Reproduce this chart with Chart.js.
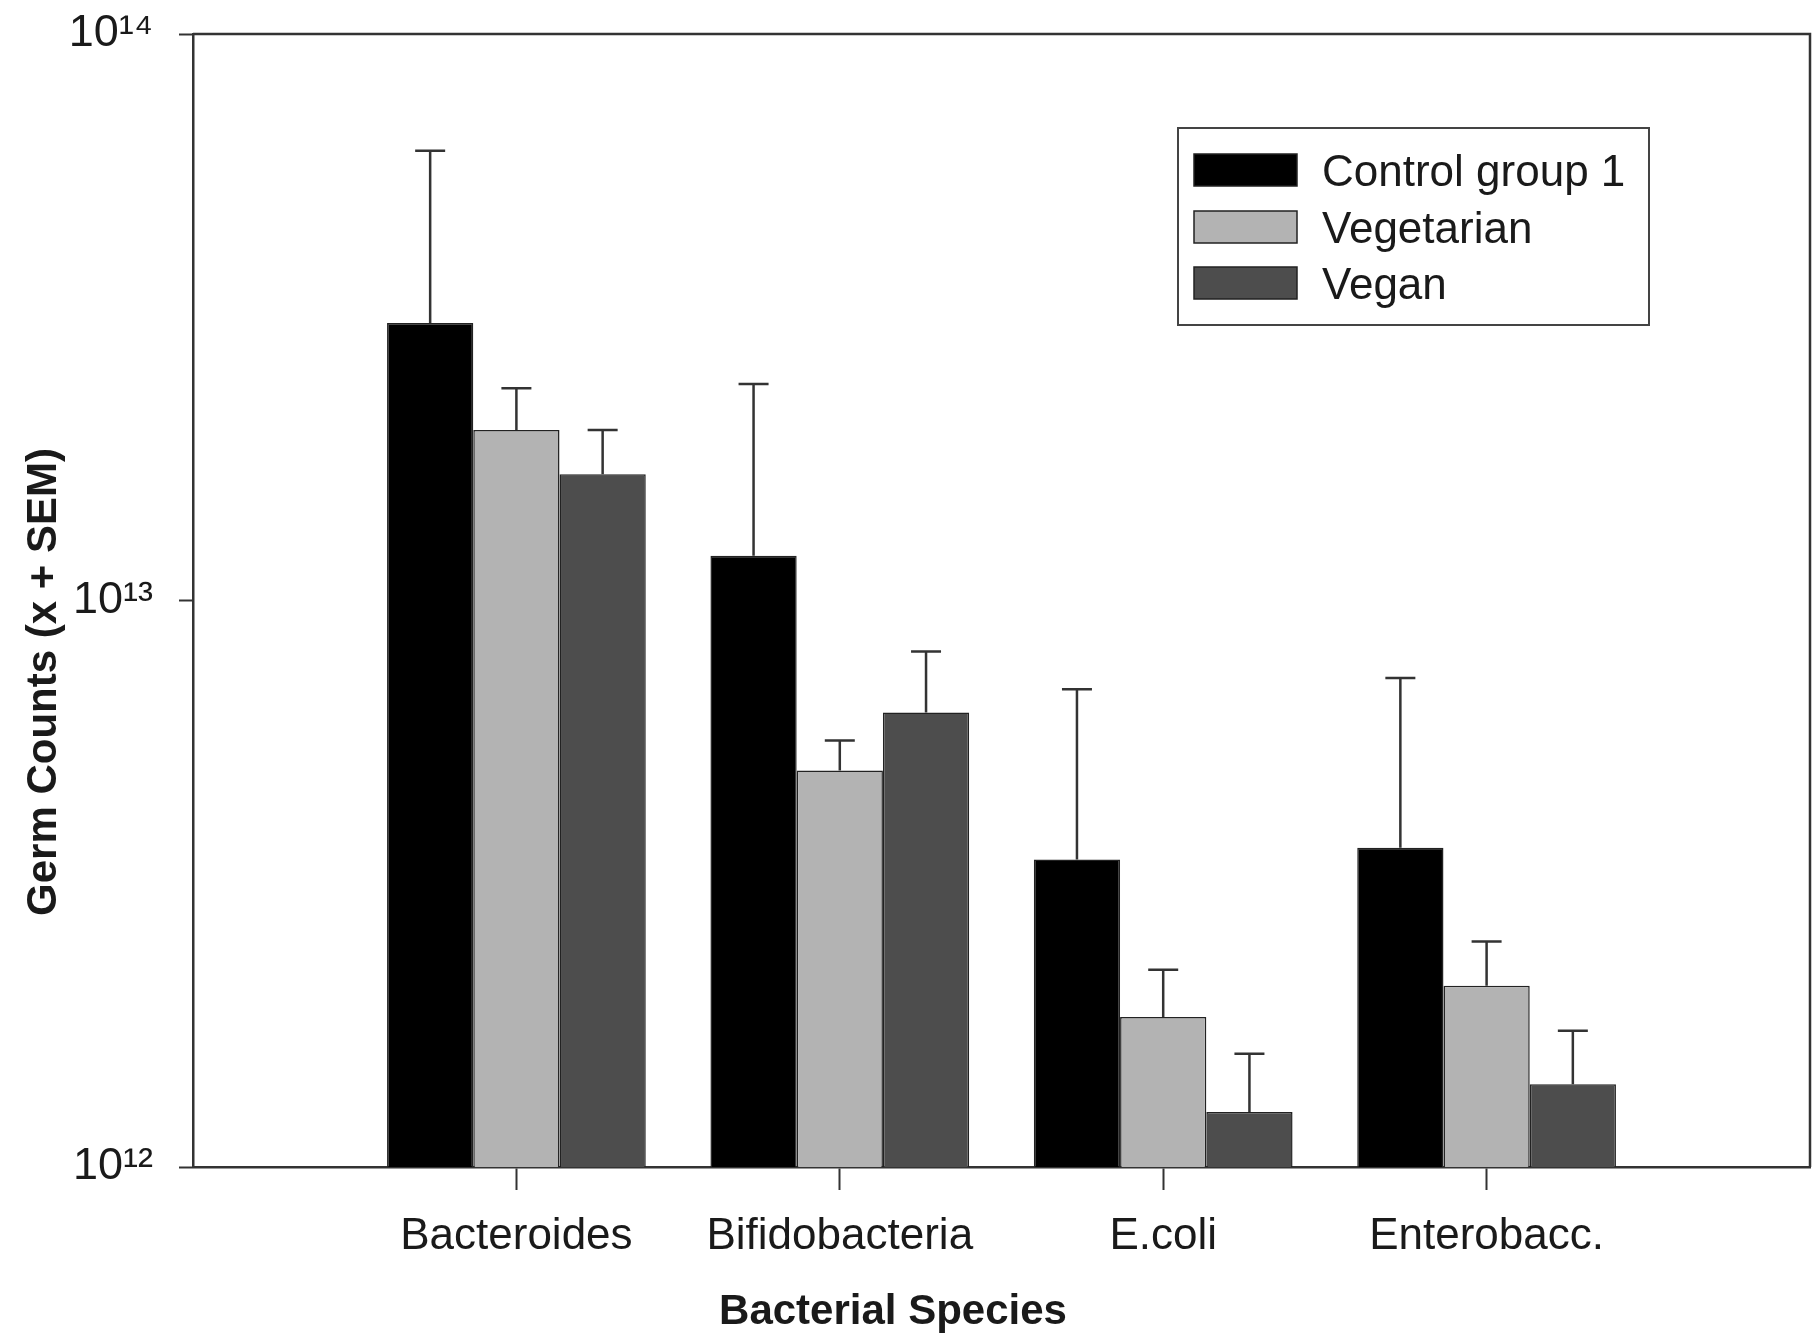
<!DOCTYPE html>
<html>
<head>
<meta charset="utf-8">
<script src="https://cdn.jsdelivr.net/npm/chart.js@4.4.1/dist/chart.umd.min.js"></script>
<style>
  html, body { margin: 0; padding: 0; background: #fff; }
  #wrap { width: 1812px; height: 1334px; position: relative; }
</style>
</head>
<body>
<div id="wrap"><canvas id="germs"></canvas></div>
<script>
// data (log scale, bar = mean, whisker top = mean + SEM)
const categories = ["Bacteroides", "Bifidobacteria", "E.coli", "Enterobacc."]
const seriesNames = ["Control group 1", "Vegetarian", "Vegan"]

const control = [3.09e13, 1.20e13, 3.49e12, 3.66e12]
const controlUpper = [6.22e13, 2.41e13, 6.97e12, 7.30e12]
const vegetarian = [2.00e13, 5.01e12, 1.84e12, 2.09e12]
const vegetarianUpper = [2.37e13, 5.66e12, 2.23e12, 2.50e12]
const vegan = [1.67e13, 6.34e12, 1.25e12, 1.40e12]
const veganUpper = [2.00e13, 8.13e12, 1.585e12, 1.74e12]

const yTickValues = [1e12, 1e13, 1e14]
const yTickLabels = ["10¹²", "10¹³", "10¹⁴"]

const barColors = ["#000000", "#b3b3b3", "#4d4d4d"]
const lineColor = "#333333"
const textColor = "#1a1a1a"

// one empty slot each side so the groups sit where the original puts them
const pad = arr => [null, ...arr, null]
const labels = ["", ...categories, ""]
const uppers = [controlUpper, vegetarianUpper, veganUpper].map(pad)

const datasets = [control, vegetarian, vegan].map((vals, i) => ({
    label: seriesNames[i],
    data: pad(vals),
    backgroundColor: barColors[i],
    borderColor: "#222222",
    borderWidth: 1.5,
    categoryPercentage: 0.8,
    barPercentage: 1.0
}))

// keep the scales from pushing the plot area around
const noPad = s => { s.paddingTop = 0; s.paddingBottom = 0; s.paddingLeft = 0; s.paddingRight = 0 }

/* whiskers: only upward, with a cap */
const errorBars = {
    id: "errorBars",
    afterDatasetsDraw(chart) {
        const ctx = chart.ctx
        const y = chart.scales.y
        ctx.save()
        ctx.strokeStyle = lineColor
        ctx.lineWidth = 2.5
        chart.data.datasets.forEach((ds, i) => {
            chart.getDatasetMeta(i).data.forEach((bar, j) => {
                const up = uppers[i][j]
                if (up == null || ds.data[j] == null) return
                const yTop = y.getPixelForValue(up)
                ctx.beginPath()
                ctx.moveTo(bar.x, bar.y)
                ctx.lineTo(bar.x, yTop)
                ctx.moveTo(bar.x - 15, yTop)
                ctx.lineTo(bar.x + 15, yTop)
                ctx.stroke()
            })
        })
        ctx.restore()
    }
}

/* box round the plot, legend and the two axis titles */
const decorations = {
    id: "decorations",
    afterDraw(chart) {
        const ctx = chart.ctx
        const a = chart.chartArea
        ctx.save()
        ctx.strokeStyle = lineColor
        ctx.lineWidth = 2.5
        ctx.beginPath()
        ctx.moveTo(a.left, a.top)
        ctx.lineTo(a.right, a.top)
        ctx.lineTo(a.right, a.bottom)
        ctx.stroke()

        // legend
        ctx.lineWidth = 2
        ctx.strokeStyle = "#444444"
        ctx.strokeRect(1178, 128, 471, 197)
        const rows = [170, 227, 283]
        ctx.font = "44px 'Liberation Sans', Arial, sans-serif"
        ctx.textBaseline = "middle"
        ctx.textAlign = "left"
        chart.data.datasets.forEach((ds, i) => {
            ctx.fillStyle = ds.backgroundColor
            ctx.fillRect(1194, rows[i] - 16, 103, 32)
            ctx.lineWidth = 1.5
            ctx.strokeStyle = "#222222"
            ctx.strokeRect(1194, rows[i] - 16, 103, 32)
            ctx.fillStyle = textColor
            ctx.fillText(ds.label, 1322, rows[i] + 4)
        })

        // axis titles
        ctx.font = "bold 42px 'Liberation Sans', Arial, sans-serif"
        ctx.fillStyle = textColor
        ctx.textAlign = "center"
        ctx.fillText("Bacterial Species", 893, 1312)
        ctx.translate(44, 682)
        ctx.rotate(-Math.PI / 2)
        ctx.fillText("Germ Counts (x + SEM)", 0, 0)
        ctx.restore()
    }
}

const chart = new Chart("germs", {
    type: "bar",
    data: { labels: labels, datasets: datasets },
    options: {
        responsive: true,
        maintainAspectRatio: false,
        animation: false,
        layout: { autoPadding: false, padding: { top: 34, right: 2, left: 0, bottom: 0 } },
        plugins: {
            legend: { display: false },
            tooltip: { enabled: false }
        },
        scales: {
            x: {
                type: "category",
                offset: false,
                afterFit: s => { s.height = 167; noPad(s) },
                grid: {
                    offset: false,
                    drawOnChartArea: false,
                    drawTicks: true,
                    tickLength: 23,
                    tickWidth: 2,
                    tickColor: c => (c.index >= 1 && c.index <= categories.length) ? lineColor : "rgba(0,0,0,0)"
                },
                border: { display: true, color: lineColor, width: 2.5 },
                ticks: {
                    color: textColor,
                    padding: 20,
                    maxRotation: 0,
                    autoSkip: false,
                    font: { family: "'Liberation Sans', Arial, sans-serif", size: 44 }
                }
            },
            y: {
                type: "logarithmic",
                min: 1e12,
                max: 1e14,
                afterFit: s => { s.width = 193; noPad(s) },
                afterBuildTicks: s => { s.ticks = yTickValues.map(v => ({ value: v })) },
                grid: {
                    drawOnChartArea: false,
                    drawTicks: true,
                    tickLength: 14,
                    tickWidth: 2,
                    tickColor: lineColor
                },
                border: { display: true, color: lineColor, width: 2.5 },
                ticks: {
                    color: textColor,
                    padding: 26,
                    callback: v => {
                        const k = yTickValues.indexOf(v)
                        return k >= 0 ? yTickLabels[k] : ""
                    },
                    font: { family: "'Liberation Sans', Arial, sans-serif", size: 45 }
                }
            }
        }
    },
    plugins: [errorBars, decorations]
})
</script>
</body>
</html>
